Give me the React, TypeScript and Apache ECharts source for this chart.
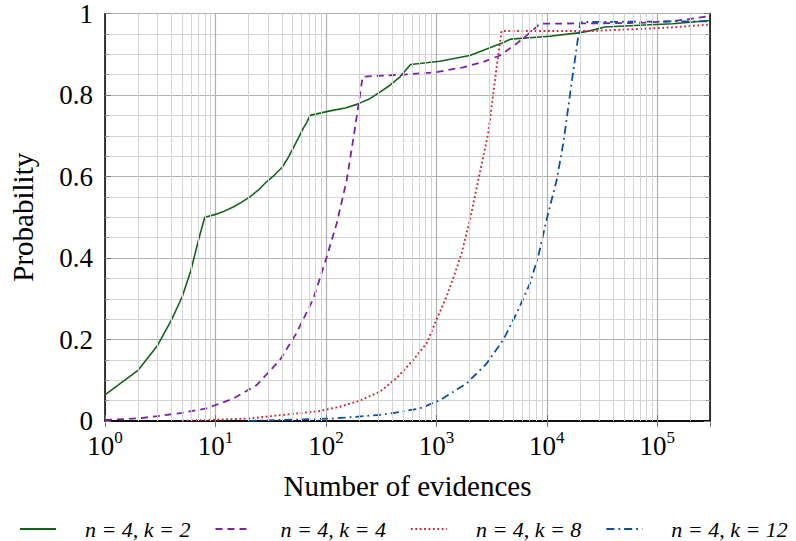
import React, { useEffect, useRef } from 'react';
import * as echarts from 'echarts';

// ---- data ----
const seriesNames = ['n = 4, k = 2', 'n = 4, k = 4', 'n = 4, k = 8', 'n = 4, k = 12'];

const greenX = [1, 2, 3, 4, 5, 6, 7, 8, 10, 12, 14.5, 17, 20.5, 24.5, 29, 34, 40, 45, 50.6, 56, 62, 67, 72, 109, 150, 190, 250, 308, 380, 467, 584, 1075, 2010, 3050, 3890, 4690, 10640, 20000, 25000, 33500, 69000, 138000, 300000];
const greenY = [0.064, 0.125, 0.186, 0.248, 0.305, 0.37, 0.443, 0.5, 0.507, 0.515, 0.525, 0.536, 0.55, 0.567, 0.587, 0.603, 0.622, 0.644, 0.67, 0.693, 0.717, 0.733, 0.75, 0.761, 0.768, 0.777, 0.791, 0.807, 0.824, 0.844, 0.875, 0.883, 0.897, 0.916, 0.927, 0.937, 0.944, 0.953, 0.958, 0.967, 0.971, 0.975, 0.983];

const purpleX = [1, 2, 3, 5, 8.3, 14.5, 23.6, 38.4, 54, 77, 101, 125, 154, 183, 200, 215, 500, 1000, 1750, 2650, 3760, 5320, 6500, 8070, 8650, 30000, 69000, 138000, 200000, 300000];
const purpleY = [0.0025, 0.0065, 0.012, 0.02, 0.031, 0.055, 0.088, 0.15, 0.215, 0.3, 0.4, 0.484, 0.59, 0.717, 0.787, 0.845, 0.85, 0.856, 0.868, 0.881, 0.897, 0.926, 0.945, 0.967, 0.975, 0.976, 0.977, 0.981, 0.987, 0.994];

const redX = [5, 20, 41, 85, 134, 203, 308, 436, 617, 814, 1000, 1235, 1470, 1690, 2010, 2390, 2940, 3510, 3890, 24500, 69000, 138000, 300000];
const redY = [0.0005, 0.006, 0.015, 0.024, 0.035, 0.05, 0.072, 0.105, 0.15, 0.19, 0.248, 0.305, 0.362, 0.411, 0.493, 0.59, 0.705, 0.868, 0.957, 0.957, 0.962, 0.966, 0.973];

const blueX = [20, 116, 308, 468, 710, 1075, 1875, 2850, 4030, 5320, 7020, 8340, 9930, 12250, 14060, 16730, 19200, 20200, 69000, 300000];
const blueY = [0.0005, 0.006, 0.015, 0.022, 0.031, 0.051, 0.092, 0.141, 0.199, 0.264, 0.337, 0.403, 0.493, 0.59, 0.68, 0.828, 0.942, 0.979, 0.98, 0.981];

const xMin = 1;
const xMax = 300000;
const decades = [0, 1, 2, 3, 4, 5];
const minorMultipliers = [2, 3, 4, 5, 6, 7, 8, 9];

const zip = (xs: number[], ys: number[]) => xs.map((x, i) => [x, ys[i]]);

const FONT = "'Liberation Serif', 'DejaVu Serif', serif";

export default function App() {
  const ref = useRef<HTMLDivElement>(null);
  useEffect(() => {
    if (!ref.current) return;
    const chart = echarts.init(ref.current, null, { renderer: 'svg' });

    const minorX: number[] = [];
    decades.forEach((d) => minorMultipliers.forEach((m) => {
      const v = m * Math.pow(10, d);
      if (v < xMax) minorX.push(v);
    }));

    const xLabelFormatter = (v: number) => {
      const l = Math.log10(v);
      const k = Math.round(l);
      if (Math.abs(l - k) > 1e-6) return '';
      return `{b|10}{s|${k}}`;
    };

    const option: any = {
      animation: false,
      backgroundColor: '#ffffff',
      textStyle: { fontFamily: FONT },
      grid: { left: 105, right: 86, top: 13, bottom: 120, containLabel: false },
      legend: {
        data: seriesNames,
        left: 14,
        top: 513,
        width: 900,
        itemWidth: 36,
        itemHeight: 14,
        itemGap: 24,
        itemStyle: { opacity: 0 },
        textStyle: { fontFamily: FONT, fontSize: 22, fontStyle: 'italic', color: '#000', padding: [0, 0, 0, 24] },
      },
      xAxis: [
        {
          type: 'log', logBase: 10, min: xMin, max: xMax,
          name: 'Number of evidences', nameLocation: 'middle', nameGap: 50,
          nameTextStyle: { fontSize: 29, color: '#000', fontFamily: FONT },
          axisLine: { show: true, lineStyle: { color: '#000', width: 1.5 } },
          axisTick: { show: true, inside: true, length: 6, lineStyle: { color: '#777', width: 1 } },
          axisLabel: {
            formatter: xLabelFormatter, margin: 8, showMaxLabel: false,
            rich: {
              b: { fontSize: 27, lineHeight: 34, color: '#000', fontFamily: FONT },
              s: { fontSize: 17, lineHeight: 20, verticalAlign: 'top', color: '#000', fontFamily: FONT },
            },
          },
          splitLine: { show: true, lineStyle: { color: '#b0b0b0', width: 1.2 } },
        },
        {
          type: 'log', logBase: 10, min: xMin, max: xMax, position: 'top',
          axisLine: { show: true, lineStyle: { color: '#000', width: 1.5 } },
          axisTick: { show: true, inside: true, length: 6, lineStyle: { color: '#777', width: 1 } },
          axisLabel: { show: false },
          splitLine: { show: false },
        },
      ],
      yAxis: [
        {
          type: 'value', min: 0, max: 1, interval: 0.2,
          name: 'Probability', nameLocation: 'middle', nameGap: 68, nameRotate: 90,
          nameTextStyle: { fontSize: 29, color: '#000', fontFamily: FONT },
          axisLine: { show: true, lineStyle: { color: '#000', width: 1.5 } },
          axisTick: { show: true, inside: true, length: 6, lineStyle: { color: '#777', width: 1 } },
          minorTick: { show: true, splitNumber: 4, length: 4, lineStyle: { color: '#999', width: 1 } },
          axisLabel: {
            fontSize: 27, color: '#000', fontFamily: FONT, margin: 12,
            formatter: (v: number) => (v === 0 ? '0' : v === 1 ? '1' : v.toFixed(1)),
          },
          splitLine: { show: true, lineStyle: { color: '#b0b0b0', width: 1.2 } },
          minorSplitLine: { show: true, lineStyle: { color: '#d4d4d4', width: 1 } },
        },
        {
          type: 'value', min: 0, max: 1, interval: 0.2, position: 'right',
          axisLine: { show: true, lineStyle: { color: '#000', width: 1.5 } },
          axisTick: { show: true, inside: true, length: 6, lineStyle: { color: '#777', width: 1 } },
          minorTick: { show: true, splitNumber: 4, length: 4, lineStyle: { color: '#999', width: 1 } },
          axisLabel: { show: false },
          splitLine: { show: false },
        },
      ],
      series: [
        {
          name: '__minorgrid', type: 'line', data: [], z: 1, silent: true,
          markLine: {
            silent: true, symbol: ['none', 'none'], animation: false,
            label: { show: false },
            lineStyle: { color: '#d4d4d4', width: 1, type: 'solid' },
            emphasis: { disabled: true },
            data: minorX.map((v) => ({ xAxis: v })),
          },
        },
        {
          name: seriesNames[0], type: 'line', data: zip(greenX, greenY), showSymbol: false, symbol: 'none',
          lineStyle: { color: '#12641c', width: 1.6, type: 'solid' }, itemStyle: { color: '#12641c' }, z: 3,
        },
        {
          name: seriesNames[1], type: 'line', data: zip(purpleX, purpleY), showSymbol: false, symbol: 'none',
          lineStyle: { color: '#7a22a6', width: 1.8, type: [7, 5] }, itemStyle: { color: '#7a22a6' }, z: 3,
        },
        {
          name: seriesNames[2], type: 'line', data: zip(redX, redY), showSymbol: false, symbol: 'none',
          lineStyle: { color: '#cf2237', width: 1.9, type: [1.8, 2.6] }, itemStyle: { color: '#cf2237' }, z: 3,
        },
        {
          name: seriesNames[3], type: 'line', data: zip(blueX, blueY), showSymbol: false, symbol: 'none',
          lineStyle: { color: '#0b4ea6', width: 1.8, type: [8, 4, 1.8, 4] }, itemStyle: { color: '#0b4ea6' }, z: 3,
        },
      ],
    };
    chart.setOption(option);
    return () => chart.dispose();
  }, []);
  return <div ref={ref} style={{ position: 'fixed', left: 0, top: 0, width: 796, height: 541, background: '#fff' }} />;
}
